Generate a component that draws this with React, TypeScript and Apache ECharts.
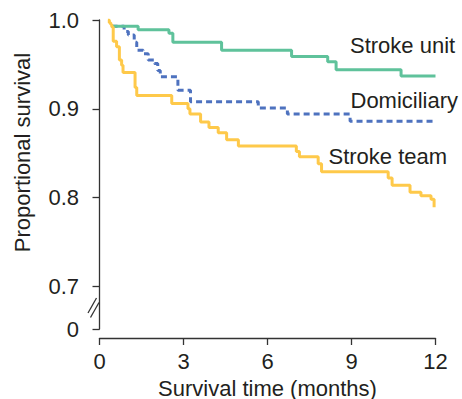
import React, { useEffect, useRef } from "react";
import * as echarts from "echarts";

// ---- data ----
const unitTimes = [0.43, 1.38, 2.48, 2.62, 4.36, 6.86, 8.15, 8.45, 10.77, 12.0];
const unitSurv = [0.993, 0.989, 0.985, 0.975, 0.966, 0.959, 0.953, 0.944, 0.937, 0.937];

const domTimes = [0.43, 0.88, 1.03, 1.24, 1.33, 1.56, 1.74, 1.96, 2.08, 2.17, 2.8, 3.25, 5.67, 6.71, 8.95, 11.9];
const domSurv = [0.993, 0.987, 0.983, 0.975, 0.966, 0.962, 0.955, 0.951, 0.943, 0.936, 0.921, 0.908, 0.901, 0.894, 0.886, 0.886];

const teamTimes = [0.3, 0.35, 0.4, 0.44, 0.49, 0.61, 0.71, 0.79, 0.84, 1.27, 1.33, 2.58, 3.16, 3.23, 3.61, 3.91, 4.24, 4.54, 4.96, 7.03, 7.14, 7.81, 7.93, 10.31, 10.45, 11.09, 11.48, 11.84, 11.95];
const teamSurv = [1.0, 0.997, 0.995, 0.992, 0.976, 0.97, 0.955, 0.949, 0.941, 0.924, 0.915, 0.906, 0.9, 0.894, 0.885, 0.879, 0.873, 0.865, 0.858, 0.852, 0.846, 0.838, 0.829, 0.822, 0.814, 0.806, 0.802, 0.798, 0.789];

const seriesNames = ["Stroke unit", "Domiciliary", "Stroke team"];
const xTicks = [0, 3, 6, 9, 12];
const yTickLabels = ["0", "0.7", "0.8", "0.9", "1.0"];
const Y_BREAK_MIN = 0.652; // where the "0" label sits after the axis break
const yTickValues = [Y_BREAK_MIN, 0.7, 0.8, 0.9, 1.0];

const FONT = "Liberation Sans, Arial, Helvetica, sans-serif";
const TXT = "#231f20";
const FS = 22;

const zip = (t: number[], s: number[]) => t.map((v, i) => [v, s[i]]);

export default function App() {
  const ref = useRef<HTMLDivElement>(null);
  useEffect(() => {
    if (!ref.current) return;
    const chart = echarts.init(ref.current, undefined, { renderer: "svg" });
    const option: any = {
      animation: false,
      backgroundColor: "#ffffff",
      textStyle: { fontFamily: FONT },
      grid: { left: 99.5, right: 26.5, top: 20, bottom: 70, containLabel: false, outerBoundsMode: "none" },
      xAxis: {
        type: "value",
        min: 0,
        max: 12,
        interval: 3,
        offset: 9,
        splitLine: { show: false },
        axisLine: { show: true, lineStyle: { color: "#333", width: 1.3 } },
        axisTick: { show: true, length: 7, lineStyle: { color: "#333", width: 1.3 } },
        axisLabel: {
          color: TXT,
          fontSize: FS,
          fontFamily: FONT,
          margin: 12,
          lineHeight: 22,
          customValues: xTicks,
          formatter: (v: number) => String(v),
        },
        name: "Survival time (months)",
        nameLocation: "middle",
        nameGap: 39,
        nameMoveOverlap: false,
        nameTextStyle: { color: TXT, fontSize: FS, fontFamily: FONT, lineHeight: 22 },
      },
      yAxis: {
        type: "value",
        min: Y_BREAK_MIN,
        max: 1.0,
        offset: 6.5,
        splitLine: { show: false },
        axisLine: { show: true, lineStyle: { color: "#333", width: 1.3 } },
        axisTick: { show: true, length: 7, customValues: yTickValues, lineStyle: { color: "#333", width: 1.3 } },
        axisLabel: {
          color: TXT,
          fontSize: FS,
          fontFamily: FONT,
          margin: 14,
          customValues: yTickValues,
          formatter: (v: number) => {
            const i = yTickValues.findIndex((t) => Math.abs(t - v) < 1e-6);
            return i >= 0 ? yTickLabels[i] : "";
          },
        },
      },
      series: [
        {
          name: seriesNames[0],
          type: "line",
          step: "end",
          symbol: "none",
          data: zip(unitTimes, unitSurv),
          lineStyle: { color: "#5fc29b", width: 3 },
          z: 3,
        },
        {
          name: seriesNames[1],
          type: "line",
          step: "end",
          symbol: "none",
          data: zip(domTimes, domSurv),
          lineStyle: { color: "#4e72bf", width: 3, type: [6, 4] },
          z: 2,
        },
        {
          name: seriesNames[2],
          type: "line",
          step: "end",
          symbol: "none",
          data: zip(teamTimes, teamSurv),
          lineStyle: { color: "#fec94a", width: 3 },
          z: 4,
        },
      ],
      graphic: [
        {
          type: "text",
          x: 22.5,
          y: 152.5,
          rotation: Math.PI / 2,
          style: {
            text: "Proportional survival",
            fill: TXT,
            font: `${FS}px ${FONT}`,
            textAlign: "center",
            textVerticalAlign: "middle",
          },
        },
        {
          type: "text",
          x: 350,
          y: 45,
          style: { text: seriesNames[0], fill: TXT, font: `${FS}px ${FONT}`, textAlign: "left", textVerticalAlign: "middle" },
        },
        {
          type: "text",
          x: 350.5,
          y: 100,
          style: { text: seriesNames[1], fill: TXT, font: `${FS}px ${FONT}`, textAlign: "left", textVerticalAlign: "middle" },
        },
        {
          type: "text",
          x: 328.5,
          y: 156.5,
          style: { text: seriesNames[2], fill: TXT, font: `${FS}px ${FONT}`, textAlign: "left", textVerticalAlign: "middle" },
        },
        // axis break: white gap + two slashes
        { type: "rect", shape: { x: 90, y: 297, width: 6, height: 15 }, style: { fill: "#ffffff" }, z: 100 },
        { type: "line", shape: { x1: 88, y1: 313, x2: 96.5, y2: 298 }, style: { stroke: "#333", lineWidth: 1.3 }, z: 101 },
        { type: "line", shape: { x1: 90.5, y1: 317.5, x2: 99, y2: 302.5 }, style: { stroke: "#333", lineWidth: 1.3 }, z: 101 },
      ],
    };
    chart.setOption(option);
    return () => chart.dispose();
  }, []);
  return (
    <div
      ref={ref}
      style={{ position: "fixed", left: 0, top: 0, width: 462, height: 399, background: "#fff" }}
    />
  );
}
